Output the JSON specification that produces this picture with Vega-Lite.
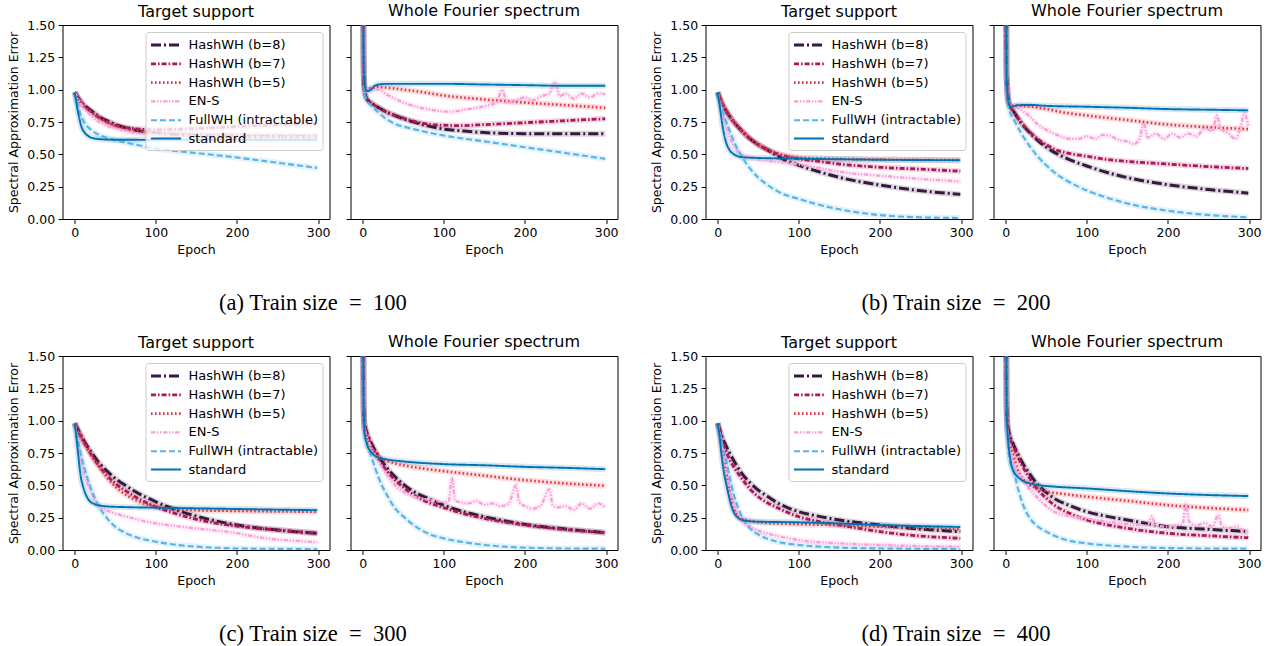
{
"$schema": "https://vega.github.io/schema/vega-lite/v6.json",
"padding": {"left": 6.5, "top": 2, "right": 5, "bottom": 0},
"config": {
  "font": "DejaVu Sans",
  "view": {"stroke": "black", "strokeWidth": 1},
  "axis": {"domain": false, "grid": false, "tickColor": "black", "tickSize": 4.4, "tickWidth": 1, "labelColor": "black", "labelFontSize": 12.5, "labelPadding": 3.5, "titleFontSize": 12.5, "titleFontWeight": "normal", "titleColor": "black", "titlePadding": 4},
  "axisY": {"titlePadding": 6},
  "title": {"fontSize": 16, "fontWeight": "normal", "color": "black", "offset": 6},
  "legend": {"orient": "top-right", "offset": 7, "symbolType": "M-1,0H3", "symbolSize": 225, "labelOffset": 21, "labelFontSize": 13, "labelColor": "black", "fillColor": "rgba(255,255,255,0.8)", "strokeColor": "#cccccc", "cornerRadius": 3, "padding": 4, "rowPadding": 2.8}
},
"datasets": {
"aT": [
{"m":"b8","e":0,"v":0.98},{"m":"b8","e":5,"v":0.93},{"m":"b8","e":10,"v":0.89},{"m":"b8","e":20,"v":0.84},{"m":"b8","e":30,"v":0.79},{"m":"b8","e":40,"v":0.76},{"m":"b8","e":50,"v":0.73},{"m":"b8","e":60,"v":0.71},{"m":"b8","e":80,"v":0.68},{"m":"b8","e":100,"v":0.665},{"m":"b8","e":125,"v":0.652},{"m":"b8","e":150,"v":0.645},{"m":"b8","e":200,"v":0.64},{"m":"b8","e":250,"v":0.637},{"m":"b8","e":299,"v":0.635},
{"m":"b7","e":0,"v":0.98},{"m":"b7","e":5,"v":0.93},{"m":"b7","e":10,"v":0.885},{"m":"b7","e":20,"v":0.83},{"m":"b7","e":30,"v":0.785},{"m":"b7","e":40,"v":0.75},{"m":"b7","e":50,"v":0.725},{"m":"b7","e":60,"v":0.71},{"m":"b7","e":80,"v":0.695},{"m":"b7","e":100,"v":0.69},{"m":"b7","e":150,"v":0.7},{"m":"b7","e":200,"v":0.715},{"m":"b7","e":250,"v":0.73},{"m":"b7","e":299,"v":0.745},
{"m":"b5","e":0,"v":0.98},{"m":"b5","e":5,"v":0.93},{"m":"b5","e":10,"v":0.885},{"m":"b5","e":20,"v":0.83},{"m":"b5","e":30,"v":0.785},{"m":"b5","e":40,"v":0.75},{"m":"b5","e":50,"v":0.72},{"m":"b5","e":60,"v":0.7},{"m":"b5","e":80,"v":0.68},{"m":"b5","e":100,"v":0.665},{"m":"b5","e":150,"v":0.655},{"m":"b5","e":200,"v":0.65},{"m":"b5","e":250,"v":0.645},{"m":"b5","e":299,"v":0.645},
{"m":"ens","e":0,"v":0.98},{"m":"ens","e":5,"v":0.92},{"m":"ens","e":10,"v":0.87},{"m":"ens","e":20,"v":0.8},{"m":"ens","e":30,"v":0.75},{"m":"ens","e":40,"v":0.72},{"m":"ens","e":50,"v":0.7},{"m":"ens","e":70,"v":0.67},{"m":"ens","e":100,"v":0.65},{"m":"ens","e":150,"v":0.64},{"m":"ens","e":200,"v":0.635},{"m":"ens","e":250,"v":0.63},{"m":"ens","e":299,"v":0.63},
{"m":"full","e":0,"v":0.98},{"m":"full","e":3,"v":0.9},{"m":"full","e":6,"v":0.83},{"m":"full","e":10,"v":0.77},{"m":"full","e":15,"v":0.72},{"m":"full","e":20,"v":0.69},{"m":"full","e":30,"v":0.65},{"m":"full","e":40,"v":0.628},{"m":"full","e":50,"v":0.61},{"m":"full","e":75,"v":0.575},{"m":"full","e":100,"v":0.545},{"m":"full","e":150,"v":0.51},{"m":"full","e":200,"v":0.475},{"m":"full","e":250,"v":0.435},{"m":"full","e":299,"v":0.395},
{"m":"std","e":0,"v":0.98},{"m":"std","e":2,"v":0.9},{"m":"std","e":5,"v":0.8},{"m":"std","e":8,"v":0.72},{"m":"std","e":12,"v":0.67},{"m":"std","e":16,"v":0.645},{"m":"std","e":20,"v":0.63},{"m":"std","e":30,"v":0.618},{"m":"std","e":50,"v":0.613},{"m":"std","e":100,"v":0.612},{"m":"std","e":200,"v":0.612},{"m":"std","e":299,"v":0.612}
],
"aW": [
{"m":"b8","e":0,"v":2.5},{"m":"b8","e":1,"v":1.3},{"m":"b8","e":2,"v":1.0},{"m":"b8","e":5,"v":0.93},{"m":"b8","e":10,"v":0.9},{"m":"b8","e":20,"v":0.86},{"m":"b8","e":30,"v":0.825},{"m":"b8","e":40,"v":0.8},{"m":"b8","e":50,"v":0.775},{"m":"b8","e":60,"v":0.755},{"m":"b8","e":80,"v":0.72},{"m":"b8","e":100,"v":0.695},{"m":"b8","e":125,"v":0.68},{"m":"b8","e":150,"v":0.668},{"m":"b8","e":200,"v":0.66},{"m":"b8","e":250,"v":0.66},{"m":"b8","e":299,"v":0.66},
{"m":"b7","e":0,"v":2.5},{"m":"b7","e":1,"v":1.3},{"m":"b7","e":2,"v":1.0},{"m":"b7","e":5,"v":0.93},{"m":"b7","e":10,"v":0.9},{"m":"b7","e":20,"v":0.86},{"m":"b7","e":30,"v":0.825},{"m":"b7","e":40,"v":0.8},{"m":"b7","e":50,"v":0.78},{"m":"b7","e":60,"v":0.76},{"m":"b7","e":80,"v":0.735},{"m":"b7","e":100,"v":0.725},{"m":"b7","e":120,"v":0.722},{"m":"b7","e":150,"v":0.73},{"m":"b7","e":200,"v":0.745},{"m":"b7","e":250,"v":0.76},{"m":"b7","e":299,"v":0.775},
{"m":"b5","e":0,"v":2.5},{"m":"b5","e":1,"v":1.3},{"m":"b5","e":2,"v":1.03},{"m":"b5","e":5,"v":1.01},{"m":"b5","e":10,"v":1.01},{"m":"b5","e":20,"v":1.02},{"m":"b5","e":30,"v":1.015},{"m":"b5","e":50,"v":1.0},{"m":"b5","e":75,"v":0.98},{"m":"b5","e":100,"v":0.955},{"m":"b5","e":150,"v":0.925},{"m":"b5","e":200,"v":0.9},{"m":"b5","e":250,"v":0.88},{"m":"b5","e":299,"v":0.86},
{"m":"ens","e":0,"v":2.5},{"m":"ens","e":1,"v":1.3},{"m":"ens","e":2,"v":1.03},{"m":"ens","e":5,"v":1.0},{"m":"ens","e":10,"v":1.0},{"m":"ens","e":20,"v":1.0},{"m":"ens","e":30,"v":0.96},{"m":"ens","e":40,"v":0.93},{"m":"ens","e":50,"v":0.9},{"m":"ens","e":65,"v":0.87},{"m":"ens","e":80,"v":0.85},{"m":"ens","e":95,"v":0.835},{"m":"ens","e":110,"v":0.83},{"m":"ens","e":125,"v":0.845},{"m":"ens","e":140,"v":0.86},{"m":"ens","e":155,"v":0.88},{"m":"ens","e":165,"v":0.9},{"m":"ens","e":172,"v":1.0},{"m":"ens","e":178,"v":0.9},{"m":"ens","e":190,"v":0.92},{"m":"ens","e":200,"v":0.94},{"m":"ens","e":210,"v":0.92},{"m":"ens","e":220,"v":0.95},{"m":"ens","e":230,"v":0.97},{"m":"ens","e":237,"v":1.06},{"m":"ens","e":243,"v":0.95},{"m":"ens","e":250,"v":0.97},{"m":"ens","e":260,"v":0.93},{"m":"ens","e":270,"v":0.97},{"m":"ens","e":280,"v":0.94},{"m":"ens","e":290,"v":0.97},{"m":"ens","e":299,"v":0.965},
{"m":"full","e":0,"v":2.5},{"m":"full","e":1,"v":1.3},{"m":"full","e":2,"v":0.98},{"m":"full","e":5,"v":0.92},{"m":"full","e":10,"v":0.88},{"m":"full","e":20,"v":0.82},{"m":"full","e":30,"v":0.77},{"m":"full","e":40,"v":0.735},{"m":"full","e":60,"v":0.7},{"m":"full","e":80,"v":0.67},{"m":"full","e":100,"v":0.645},{"m":"full","e":150,"v":0.6},{"m":"full","e":200,"v":0.555},{"m":"full","e":250,"v":0.51},{"m":"full","e":299,"v":0.465},
{"m":"std","e":0,"v":2.5},{"m":"std","e":1,"v":1.3},{"m":"std","e":2,"v":1.05},{"m":"std","e":4,"v":1.0},{"m":"std","e":7,"v":0.99},{"m":"std","e":10,"v":1.0},{"m":"std","e":15,"v":1.03},{"m":"std","e":20,"v":1.04},{"m":"std","e":30,"v":1.045},{"m":"std","e":50,"v":1.045},{"m":"std","e":100,"v":1.045},{"m":"std","e":150,"v":1.04},{"m":"std","e":200,"v":1.035},{"m":"std","e":250,"v":1.03},{"m":"std","e":299,"v":1.03}
],
"bT": [
{"m":"b8","e":0,"v":0.98},{"m":"b8","e":5,"v":0.9},{"m":"b8","e":10,"v":0.84},{"m":"b8","e":20,"v":0.75},{"m":"b8","e":30,"v":0.68},{"m":"b8","e":40,"v":0.62},{"m":"b8","e":50,"v":0.575},{"m":"b8","e":60,"v":0.54},{"m":"b8","e":80,"v":0.465},{"m":"b8","e":100,"v":0.415},{"m":"b8","e":125,"v":0.365},{"m":"b8","e":150,"v":0.322},{"m":"b8","e":200,"v":0.262},{"m":"b8","e":250,"v":0.219},{"m":"b8","e":299,"v":0.19},
{"m":"b7","e":0,"v":0.98},{"m":"b7","e":5,"v":0.9},{"m":"b7","e":10,"v":0.84},{"m":"b7","e":20,"v":0.75},{"m":"b7","e":30,"v":0.68},{"m":"b7","e":40,"v":0.62},{"m":"b7","e":50,"v":0.575},{"m":"b7","e":60,"v":0.54},{"m":"b7","e":80,"v":0.49},{"m":"b7","e":100,"v":0.465},{"m":"b7","e":125,"v":0.445},{"m":"b7","e":150,"v":0.425},{"m":"b7","e":200,"v":0.4},{"m":"b7","e":250,"v":0.385},{"m":"b7","e":299,"v":0.37},
{"m":"b5","e":0,"v":0.98},{"m":"b5","e":5,"v":0.9},{"m":"b5","e":10,"v":0.84},{"m":"b5","e":20,"v":0.75},{"m":"b5","e":30,"v":0.68},{"m":"b5","e":40,"v":0.62},{"m":"b5","e":50,"v":0.575},{"m":"b5","e":60,"v":0.54},{"m":"b5","e":80,"v":0.495},{"m":"b5","e":100,"v":0.475},{"m":"b5","e":150,"v":0.465},{"m":"b5","e":200,"v":0.46},{"m":"b5","e":299,"v":0.455},
{"m":"ens","e":0,"v":0.98},{"m":"ens","e":5,"v":0.85},{"m":"ens","e":10,"v":0.73},{"m":"ens","e":15,"v":0.63},{"m":"ens","e":20,"v":0.56},{"m":"ens","e":30,"v":0.5},{"m":"ens","e":40,"v":0.475},{"m":"ens","e":50,"v":0.46},{"m":"ens","e":75,"v":0.44},{"m":"ens","e":100,"v":0.42},{"m":"ens","e":125,"v":0.395},{"m":"ens","e":150,"v":0.365},{"m":"ens","e":200,"v":0.335},{"m":"ens","e":250,"v":0.31},{"m":"ens","e":299,"v":0.29},
{"m":"full","e":0,"v":0.98},{"m":"full","e":5,"v":0.86},{"m":"full","e":10,"v":0.76},{"m":"full","e":15,"v":0.68},{"m":"full","e":20,"v":0.6},{"m":"full","e":30,"v":0.48},{"m":"full","e":40,"v":0.39},{"m":"full","e":50,"v":0.32},{"m":"full","e":60,"v":0.27},{"m":"full","e":75,"v":0.21},{"m":"full","e":100,"v":0.155},{"m":"full","e":125,"v":0.11},{"m":"full","e":150,"v":0.075},{"m":"full","e":200,"v":0.03},{"m":"full","e":250,"v":0.013},{"m":"full","e":299,"v":0.008},
{"m":"std","e":0,"v":0.98},{"m":"std","e":3,"v":0.85},{"m":"std","e":6,"v":0.72},{"m":"std","e":10,"v":0.6},{"m":"std","e":15,"v":0.53},{"m":"std","e":20,"v":0.5},{"m":"std","e":25,"v":0.485},{"m":"std","e":30,"v":0.478},{"m":"std","e":50,"v":0.472},{"m":"std","e":100,"v":0.466},{"m":"std","e":150,"v":0.462},{"m":"std","e":200,"v":0.458},{"m":"std","e":250,"v":0.456},{"m":"std","e":299,"v":0.455}
],
"bW": [
{"m":"b8","e":0,"v":2.5},{"m":"b8","e":1,"v":1.15},{"m":"b8","e":2,"v":1.0},{"m":"b8","e":3,"v":0.93},{"m":"b8","e":5,"v":0.88},{"m":"b8","e":10,"v":0.83},{"m":"b8","e":20,"v":0.735},{"m":"b8","e":30,"v":0.665},{"m":"b8","e":40,"v":0.605},{"m":"b8","e":50,"v":0.555},{"m":"b8","e":60,"v":0.515},{"m":"b8","e":80,"v":0.455},{"m":"b8","e":100,"v":0.41},{"m":"b8","e":125,"v":0.36},{"m":"b8","e":150,"v":0.32},{"m":"b8","e":200,"v":0.265},{"m":"b8","e":250,"v":0.228},{"m":"b8","e":299,"v":0.2},
{"m":"b7","e":0,"v":2.5},{"m":"b7","e":1,"v":1.15},{"m":"b7","e":2,"v":1.0},{"m":"b7","e":3,"v":0.93},{"m":"b7","e":5,"v":0.88},{"m":"b7","e":10,"v":0.83},{"m":"b7","e":20,"v":0.74},{"m":"b7","e":30,"v":0.67},{"m":"b7","e":40,"v":0.615},{"m":"b7","e":50,"v":0.575},{"m":"b7","e":60,"v":0.54},{"m":"b7","e":80,"v":0.505},{"m":"b7","e":100,"v":0.485},{"m":"b7","e":125,"v":0.46},{"m":"b7","e":150,"v":0.445},{"m":"b7","e":200,"v":0.425},{"m":"b7","e":250,"v":0.405},{"m":"b7","e":299,"v":0.39},
{"m":"b5","e":0,"v":2.5},{"m":"b5","e":1,"v":1.15},{"m":"b5","e":2,"v":1.0},{"m":"b5","e":3,"v":0.93},{"m":"b5","e":5,"v":0.88},{"m":"b5","e":10,"v":0.875},{"m":"b5","e":20,"v":0.875},{"m":"b5","e":30,"v":0.87},{"m":"b5","e":50,"v":0.85},{"m":"b5","e":75,"v":0.82},{"m":"b5","e":100,"v":0.8},{"m":"b5","e":150,"v":0.765},{"m":"b5","e":200,"v":0.73},{"m":"b5","e":250,"v":0.71},{"m":"b5","e":299,"v":0.695},
{"m":"ens","e":0,"v":2.5},{"m":"ens","e":1,"v":1.15},{"m":"ens","e":2,"v":1.0},{"m":"ens","e":3,"v":0.93},{"m":"ens","e":5,"v":0.88},{"m":"ens","e":10,"v":0.87},{"m":"ens","e":20,"v":0.84},{"m":"ens","e":30,"v":0.79},{"m":"ens","e":40,"v":0.73},{"m":"ens","e":50,"v":0.69},{"m":"ens","e":60,"v":0.66},{"m":"ens","e":80,"v":0.62},{"m":"ens","e":90,"v":0.62},{"m":"ens","e":100,"v":0.64},{"m":"ens","e":110,"v":0.62},{"m":"ens","e":120,"v":0.65},{"m":"ens","e":130,"v":0.64},{"m":"ens","e":140,"v":0.61},{"m":"ens","e":150,"v":0.6},{"m":"ens","e":158,"v":0.58},{"m":"ens","e":165,"v":0.62},{"m":"ens","e":170,"v":0.74},{"m":"ens","e":175,"v":0.63},{"m":"ens","e":185,"v":0.66},{"m":"ens","e":195,"v":0.62},{"m":"ens","e":205,"v":0.66},{"m":"ens","e":215,"v":0.63},{"m":"ens","e":225,"v":0.66},{"m":"ens","e":235,"v":0.64},{"m":"ens","e":245,"v":0.7},{"m":"ens","e":255,"v":0.68},{"m":"ens","e":260,"v":0.8},{"m":"ens","e":265,"v":0.7},{"m":"ens","e":275,"v":0.66},{"m":"ens","e":283,"v":0.62},{"m":"ens","e":290,"v":0.72},{"m":"ens","e":294,"v":0.82},{"m":"ens","e":299,"v":0.72},
{"m":"full","e":0,"v":2.5},{"m":"full","e":1,"v":1.1},{"m":"full","e":2,"v":0.95},{"m":"full","e":3,"v":0.88},{"m":"full","e":5,"v":0.83},{"m":"full","e":10,"v":0.77},{"m":"full","e":20,"v":0.655},{"m":"full","e":30,"v":0.56},{"m":"full","e":40,"v":0.48},{"m":"full","e":50,"v":0.415},{"m":"full","e":60,"v":0.36},{"m":"full","e":80,"v":0.28},{"m":"full","e":100,"v":0.22},{"m":"full","e":125,"v":0.165},{"m":"full","e":150,"v":0.12},{"m":"full","e":200,"v":0.064},{"m":"full","e":250,"v":0.031},{"m":"full","e":299,"v":0.013},
{"m":"std","e":0,"v":2.5},{"m":"std","e":1,"v":1.15},{"m":"std","e":2,"v":1.0},{"m":"std","e":3,"v":0.93},{"m":"std","e":5,"v":0.875},{"m":"std","e":8,"v":0.87},{"m":"std","e":15,"v":0.88},{"m":"std","e":30,"v":0.882},{"m":"std","e":50,"v":0.875},{"m":"std","e":100,"v":0.868},{"m":"std","e":150,"v":0.86},{"m":"std","e":200,"v":0.85},{"m":"std","e":250,"v":0.845},{"m":"std","e":299,"v":0.84}
],
"cT": [
{"m":"b8","e":0,"v":0.98},{"m":"b8","e":5,"v":0.92},{"m":"b8","e":10,"v":0.86},{"m":"b8","e":20,"v":0.76},{"m":"b8","e":30,"v":0.675},{"m":"b8","e":40,"v":0.61},{"m":"b8","e":50,"v":0.553},{"m":"b8","e":60,"v":0.51},{"m":"b8","e":75,"v":0.45},{"m":"b8","e":100,"v":0.373},{"m":"b8","e":125,"v":0.31},{"m":"b8","e":150,"v":0.262},{"m":"b8","e":200,"v":0.193},{"m":"b8","e":250,"v":0.154},{"m":"b8","e":299,"v":0.129},
{"m":"b7","e":0,"v":0.98},{"m":"b7","e":5,"v":0.91},{"m":"b7","e":10,"v":0.85},{"m":"b7","e":20,"v":0.74},{"m":"b7","e":30,"v":0.65},{"m":"b7","e":40,"v":0.575},{"m":"b7","e":50,"v":0.515},{"m":"b7","e":60,"v":0.47},{"m":"b7","e":75,"v":0.41},{"m":"b7","e":100,"v":0.334},{"m":"b7","e":125,"v":0.28},{"m":"b7","e":150,"v":0.237},{"m":"b7","e":200,"v":0.185},{"m":"b7","e":250,"v":0.155},{"m":"b7","e":299,"v":0.129},
{"m":"b5","e":0,"v":0.98},{"m":"b5","e":5,"v":0.91},{"m":"b5","e":10,"v":0.85},{"m":"b5","e":20,"v":0.74},{"m":"b5","e":30,"v":0.645},{"m":"b5","e":40,"v":0.56},{"m":"b5","e":50,"v":0.49},{"m":"b5","e":60,"v":0.44},{"m":"b5","e":75,"v":0.385},{"m":"b5","e":100,"v":0.335},{"m":"b5","e":125,"v":0.315},{"m":"b5","e":150,"v":0.307},{"m":"b5","e":200,"v":0.302},{"m":"b5","e":250,"v":0.298},{"m":"b5","e":299,"v":0.296},
{"m":"ens","e":0,"v":0.98},{"m":"ens","e":3,"v":0.87},{"m":"ens","e":6,"v":0.76},{"m":"ens","e":10,"v":0.64},{"m":"ens","e":15,"v":0.53},{"m":"ens","e":20,"v":0.45},{"m":"ens","e":25,"v":0.38},{"m":"ens","e":30,"v":0.335},{"m":"ens","e":40,"v":0.305},{"m":"ens","e":50,"v":0.283},{"m":"ens","e":75,"v":0.24},{"m":"ens","e":100,"v":0.206},{"m":"ens","e":125,"v":0.185},{"m":"ens","e":150,"v":0.167},{"m":"ens","e":200,"v":0.13},{"m":"ens","e":225,"v":0.1},{"m":"ens","e":250,"v":0.08},{"m":"ens","e":275,"v":0.07},{"m":"ens","e":299,"v":0.06},
{"m":"full","e":0,"v":0.98},{"m":"full","e":3,"v":0.88},{"m":"full","e":6,"v":0.79},{"m":"full","e":10,"v":0.68},{"m":"full","e":15,"v":0.57},{"m":"full","e":20,"v":0.475},{"m":"full","e":25,"v":0.4},{"m":"full","e":30,"v":0.335},{"m":"full","e":40,"v":0.245},{"m":"full","e":50,"v":0.18},{"m":"full","e":60,"v":0.14},{"m":"full","e":75,"v":0.1},{"m":"full","e":100,"v":0.064},{"m":"full","e":125,"v":0.04},{"m":"full","e":150,"v":0.026},{"m":"full","e":200,"v":0.012},{"m":"full","e":250,"v":0.009},{"m":"full","e":299,"v":0.008},
{"m":"std","e":0,"v":0.98},{"m":"std","e":2,"v":0.88},{"m":"std","e":4,"v":0.76},{"m":"std","e":6,"v":0.64},{"m":"std","e":8,"v":0.55},{"m":"std","e":10,"v":0.5},{"m":"std","e":13,"v":0.44},{"m":"std","e":16,"v":0.4},{"m":"std","e":20,"v":0.37},{"m":"std","e":30,"v":0.345},{"m":"std","e":40,"v":0.337},{"m":"std","e":60,"v":0.332},{"m":"std","e":100,"v":0.327},{"m":"std","e":150,"v":0.322},{"m":"std","e":200,"v":0.317},{"m":"std","e":250,"v":0.312},{"m":"std","e":299,"v":0.308}
],
"cW": [
{"m":"b8","e":0,"v":2.5},{"m":"b8","e":1,"v":1.2},{"m":"b8","e":2,"v":0.98},{"m":"b8","e":3,"v":0.95},{"m":"b8","e":5,"v":0.91},{"m":"b8","e":10,"v":0.835},{"m":"b8","e":20,"v":0.72},{"m":"b8","e":30,"v":0.635},{"m":"b8","e":40,"v":0.566},{"m":"b8","e":50,"v":0.51},{"m":"b8","e":60,"v":0.463},{"m":"b8","e":80,"v":0.4},{"m":"b8","e":100,"v":0.347},{"m":"b8","e":125,"v":0.295},{"m":"b8","e":150,"v":0.257},{"m":"b8","e":200,"v":0.198},{"m":"b8","e":250,"v":0.162},{"m":"b8","e":299,"v":0.134},
{"m":"b7","e":0,"v":2.5},{"m":"b7","e":1,"v":1.2},{"m":"b7","e":2,"v":0.98},{"m":"b7","e":3,"v":0.95},{"m":"b7","e":5,"v":0.9},{"m":"b7","e":10,"v":0.82},{"m":"b7","e":20,"v":0.7},{"m":"b7","e":30,"v":0.61},{"m":"b7","e":40,"v":0.54},{"m":"b7","e":50,"v":0.485},{"m":"b7","e":60,"v":0.437},{"m":"b7","e":80,"v":0.37},{"m":"b7","e":100,"v":0.327},{"m":"b7","e":125,"v":0.28},{"m":"b7","e":150,"v":0.244},{"m":"b7","e":200,"v":0.193},{"m":"b7","e":250,"v":0.158},{"m":"b7","e":299,"v":0.134},
{"m":"b5","e":0,"v":2.5},{"m":"b5","e":1,"v":1.2},{"m":"b5","e":2,"v":0.95},{"m":"b5","e":3,"v":0.9},{"m":"b5","e":5,"v":0.87},{"m":"b5","e":10,"v":0.81},{"m":"b5","e":20,"v":0.72},{"m":"b5","e":30,"v":0.69},{"m":"b5","e":40,"v":0.67},{"m":"b5","e":50,"v":0.655},{"m":"b5","e":75,"v":0.63},{"m":"b5","e":100,"v":0.61},{"m":"b5","e":150,"v":0.575},{"m":"b5","e":200,"v":0.54},{"m":"b5","e":250,"v":0.515},{"m":"b5","e":299,"v":0.497},
{"m":"ens","e":0,"v":2.5},{"m":"ens","e":1,"v":1.2},{"m":"ens","e":2,"v":0.97},{"m":"ens","e":3,"v":0.93},{"m":"ens","e":5,"v":0.88},{"m":"ens","e":10,"v":0.8},{"m":"ens","e":20,"v":0.68},{"m":"ens","e":30,"v":0.58},{"m":"ens","e":40,"v":0.5},{"m":"ens","e":50,"v":0.45},{"m":"ens","e":60,"v":0.42},{"m":"ens","e":70,"v":0.4},{"m":"ens","e":80,"v":0.39},{"m":"ens","e":90,"v":0.38},{"m":"ens","e":100,"v":0.37},{"m":"ens","e":106,"v":0.38},{"m":"ens","e":110,"v":0.56},{"m":"ens","e":114,"v":0.38},{"m":"ens","e":120,"v":0.37},{"m":"ens","e":130,"v":0.36},{"m":"ens","e":140,"v":0.38},{"m":"ens","e":150,"v":0.35},{"m":"ens","e":160,"v":0.36},{"m":"ens","e":170,"v":0.34},{"m":"ens","e":180,"v":0.36},{"m":"ens","e":189,"v":0.5},{"m":"ens","e":193,"v":0.37},{"m":"ens","e":200,"v":0.34},{"m":"ens","e":210,"v":0.32},{"m":"ens","e":220,"v":0.35},{"m":"ens","e":230,"v":0.47},{"m":"ens","e":234,"v":0.35},{"m":"ens","e":240,"v":0.33},{"m":"ens","e":250,"v":0.34},{"m":"ens","e":260,"v":0.31},{"m":"ens","e":270,"v":0.36},{"m":"ens","e":280,"v":0.32},{"m":"ens","e":290,"v":0.36},{"m":"ens","e":299,"v":0.33},
{"m":"full","e":0,"v":2.5},{"m":"full","e":1,"v":1.1},{"m":"full","e":2,"v":0.92},{"m":"full","e":3,"v":0.87},{"m":"full","e":5,"v":0.82},{"m":"full","e":10,"v":0.733},{"m":"full","e":15,"v":0.64},{"m":"full","e":20,"v":0.553},{"m":"full","e":30,"v":0.424},{"m":"full","e":40,"v":0.322},{"m":"full","e":50,"v":0.26},{"m":"full","e":60,"v":0.206},{"m":"full","e":80,"v":0.129},{"m":"full","e":100,"v":0.09},{"m":"full","e":125,"v":0.06},{"m":"full","e":150,"v":0.039},{"m":"full","e":200,"v":0.018},{"m":"full","e":250,"v":0.012},{"m":"full","e":299,"v":0.01},
{"m":"std","e":0,"v":2.5},{"m":"std","e":1,"v":1.2},{"m":"std","e":2,"v":0.95},{"m":"std","e":3,"v":0.88},{"m":"std","e":5,"v":0.83},{"m":"std","e":7,"v":0.79},{"m":"std","e":10,"v":0.76},{"m":"std","e":15,"v":0.73},{"m":"std","e":20,"v":0.713},{"m":"std","e":30,"v":0.7},{"m":"std","e":50,"v":0.685},{"m":"std","e":100,"v":0.664},{"m":"std","e":150,"v":0.655},{"m":"std","e":200,"v":0.643},{"m":"std","e":250,"v":0.635},{"m":"std","e":299,"v":0.625}
],
"dT": [
{"m":"b8","e":0,"v":0.98},{"m":"b8","e":5,"v":0.88},{"m":"b8","e":10,"v":0.81},{"m":"b8","e":20,"v":0.69},{"m":"b8","e":30,"v":0.59},{"m":"b8","e":40,"v":0.52},{"m":"b8","e":50,"v":0.463},{"m":"b8","e":60,"v":0.42},{"m":"b8","e":75,"v":0.36},{"m":"b8","e":100,"v":0.296},{"m":"b8","e":125,"v":0.26},{"m":"b8","e":150,"v":0.232},{"m":"b8","e":200,"v":0.193},{"m":"b8","e":250,"v":0.162},{"m":"b8","e":299,"v":0.142},
{"m":"b7","e":0,"v":0.98},{"m":"b7","e":5,"v":0.87},{"m":"b7","e":10,"v":0.77},{"m":"b7","e":20,"v":0.64},{"m":"b7","e":30,"v":0.55},{"m":"b7","e":40,"v":0.47},{"m":"b7","e":50,"v":0.412},{"m":"b7","e":60,"v":0.37},{"m":"b7","e":75,"v":0.322},{"m":"b7","e":100,"v":0.257},{"m":"b7","e":125,"v":0.22},{"m":"b7","e":150,"v":0.193},{"m":"b7","e":200,"v":0.142},{"m":"b7","e":250,"v":0.108},{"m":"b7","e":299,"v":0.09},
{"m":"b5","e":0,"v":0.98},{"m":"b5","e":3,"v":0.88},{"m":"b5","e":6,"v":0.77},{"m":"b5","e":10,"v":0.62},{"m":"b5","e":15,"v":0.45},{"m":"b5","e":20,"v":0.32},{"m":"b5","e":25,"v":0.26},{"m":"b5","e":30,"v":0.24},{"m":"b5","e":40,"v":0.225},{"m":"b5","e":50,"v":0.215},{"m":"b5","e":100,"v":0.2},{"m":"b5","e":150,"v":0.192},{"m":"b5","e":200,"v":0.18},{"m":"b5","e":250,"v":0.17},{"m":"b5","e":299,"v":0.16},
{"m":"ens","e":0,"v":0.98},{"m":"ens","e":3,"v":0.88},{"m":"ens","e":6,"v":0.77},{"m":"ens","e":10,"v":0.6},{"m":"ens","e":15,"v":0.45},{"m":"ens","e":20,"v":0.35},{"m":"ens","e":25,"v":0.27},{"m":"ens","e":30,"v":0.22},{"m":"ens","e":40,"v":0.18},{"m":"ens","e":50,"v":0.15},{"m":"ens","e":60,"v":0.13},{"m":"ens","e":80,"v":0.1},{"m":"ens","e":100,"v":0.077},{"m":"ens","e":150,"v":0.051},{"m":"ens","e":200,"v":0.039},{"m":"ens","e":250,"v":0.03},{"m":"ens","e":299,"v":0.026},
{"m":"full","e":0,"v":0.98},{"m":"full","e":3,"v":0.9},{"m":"full","e":6,"v":0.81},{"m":"full","e":10,"v":0.707},{"m":"full","e":15,"v":0.56},{"m":"full","e":20,"v":0.424},{"m":"full","e":25,"v":0.33},{"m":"full","e":30,"v":0.257},{"m":"full","e":40,"v":0.167},{"m":"full","e":50,"v":0.12},{"m":"full","e":60,"v":0.09},{"m":"full","e":80,"v":0.055},{"m":"full","e":100,"v":0.039},{"m":"full","e":150,"v":0.018},{"m":"full","e":200,"v":0.012},{"m":"full","e":299,"v":0.008},
{"m":"std","e":0,"v":0.98},{"m":"std","e":2,"v":0.9},{"m":"std","e":4,"v":0.78},{"m":"std","e":6,"v":0.67},{"m":"std","e":8,"v":0.59},{"m":"std","e":10,"v":0.527},{"m":"std","e":13,"v":0.44},{"m":"std","e":16,"v":0.36},{"m":"std","e":20,"v":0.29},{"m":"std","e":25,"v":0.25},{"m":"std","e":30,"v":0.232},{"m":"std","e":40,"v":0.222},{"m":"std","e":50,"v":0.219},{"m":"std","e":100,"v":0.214},{"m":"std","e":150,"v":0.205},{"m":"std","e":200,"v":0.193},{"m":"std","e":250,"v":0.185},{"m":"std","e":299,"v":0.178}
],
"dW": [
{"m":"b8","e":0,"v":2.5},{"m":"b8","e":1,"v":1.2},{"m":"b8","e":2,"v":0.98},{"m":"b8","e":3,"v":0.94},{"m":"b8","e":5,"v":0.888},{"m":"b8","e":10,"v":0.81},{"m":"b8","e":20,"v":0.682},{"m":"b8","e":30,"v":0.585},{"m":"b8","e":40,"v":0.502},{"m":"b8","e":50,"v":0.445},{"m":"b8","e":60,"v":0.399},{"m":"b8","e":80,"v":0.34},{"m":"b8","e":100,"v":0.296},{"m":"b8","e":125,"v":0.26},{"m":"b8","e":150,"v":0.232},{"m":"b8","e":200,"v":0.18},{"m":"b8","e":250,"v":0.16},{"m":"b8","e":299,"v":0.142},
{"m":"b7","e":0,"v":2.5},{"m":"b7","e":1,"v":1.2},{"m":"b7","e":2,"v":0.98},{"m":"b7","e":3,"v":0.93},{"m":"b7","e":5,"v":0.87},{"m":"b7","e":10,"v":0.795},{"m":"b7","e":20,"v":0.656},{"m":"b7","e":30,"v":0.55},{"m":"b7","e":40,"v":0.463},{"m":"b7","e":50,"v":0.4},{"m":"b7","e":60,"v":0.347},{"m":"b7","e":80,"v":0.28},{"m":"b7","e":100,"v":0.232},{"m":"b7","e":125,"v":0.195},{"m":"b7","e":150,"v":0.167},{"m":"b7","e":200,"v":0.129},{"m":"b7","e":250,"v":0.11},{"m":"b7","e":299,"v":0.095},
{"m":"b5","e":0,"v":2.5},{"m":"b5","e":1,"v":1.2},{"m":"b5","e":2,"v":0.97},{"m":"b5","e":3,"v":0.9},{"m":"b5","e":5,"v":0.83},{"m":"b5","e":10,"v":0.72},{"m":"b5","e":15,"v":0.62},{"m":"b5","e":20,"v":0.56},{"m":"b5","e":30,"v":0.5},{"m":"b5","e":40,"v":0.476},{"m":"b5","e":50,"v":0.455},{"m":"b5","e":75,"v":0.43},{"m":"b5","e":100,"v":0.412},{"m":"b5","e":150,"v":0.38},{"m":"b5","e":200,"v":0.347},{"m":"b5","e":250,"v":0.325},{"m":"b5","e":299,"v":0.309},
{"m":"ens","e":0,"v":2.5},{"m":"ens","e":1,"v":1.2},{"m":"ens","e":2,"v":0.95},{"m":"ens","e":3,"v":0.88},{"m":"ens","e":5,"v":0.8},{"m":"ens","e":10,"v":0.68},{"m":"ens","e":20,"v":0.553},{"m":"ens","e":30,"v":0.47},{"m":"ens","e":40,"v":0.399},{"m":"ens","e":50,"v":0.34},{"m":"ens","e":60,"v":0.296},{"m":"ens","e":80,"v":0.26},{"m":"ens","e":100,"v":0.244},{"m":"ens","e":125,"v":0.22},{"m":"ens","e":150,"v":0.2},{"m":"ens","e":175,"v":0.19},{"m":"ens","e":180,"v":0.26},{"m":"ens","e":185,"v":0.19},{"m":"ens","e":200,"v":0.18},{"m":"ens","e":210,"v":0.19},{"m":"ens","e":218,"v":0.2},{"m":"ens","e":222,"v":0.36},{"m":"ens","e":226,"v":0.22},{"m":"ens","e":235,"v":0.19},{"m":"ens","e":245,"v":0.21},{"m":"ens","e":255,"v":0.18},{"m":"ens","e":262,"v":0.27},{"m":"ens","e":266,"v":0.19},{"m":"ens","e":275,"v":0.17},{"m":"ens","e":285,"v":0.18},{"m":"ens","e":292,"v":0.15},{"m":"ens","e":299,"v":0.14},
{"m":"full","e":0,"v":2.5},{"m":"full","e":1,"v":1.1},{"m":"full","e":2,"v":0.9},{"m":"full","e":3,"v":0.8},{"m":"full","e":5,"v":0.7},{"m":"full","e":10,"v":0.605},{"m":"full","e":15,"v":0.48},{"m":"full","e":20,"v":0.373},{"m":"full","e":30,"v":0.244},{"m":"full","e":40,"v":0.18},{"m":"full","e":50,"v":0.142},{"m":"full","e":75,"v":0.077},{"m":"full","e":100,"v":0.051},{"m":"full","e":150,"v":0.026},{"m":"full","e":200,"v":0.015},{"m":"full","e":299,"v":0.01},
{"m":"std","e":0,"v":2.5},{"m":"std","e":1,"v":1.2},{"m":"std","e":2,"v":0.95},{"m":"std","e":3,"v":0.85},{"m":"std","e":5,"v":0.733},{"m":"std","e":7,"v":0.66},{"m":"std","e":10,"v":0.605},{"m":"std","e":15,"v":0.565},{"m":"std","e":20,"v":0.54},{"m":"std","e":30,"v":0.515},{"m":"std","e":40,"v":0.502},{"m":"std","e":60,"v":0.49},{"m":"std","e":100,"v":0.476},{"m":"std","e":150,"v":0.455},{"m":"std","e":200,"v":0.437},{"m":"std","e":250,"v":0.425},{"m":"std","e":299,"v":0.417}
]
},
"resolve": {"scale": {"color": "independent", "strokeDash": "independent", "strokeWidth": "independent"}, "legend": {"color": "independent", "strokeDash": "independent", "strokeWidth": "independent"}},
"spacing": 18,
"vconcat": [
{"hconcat": [
  {"title": {"text": "(a) Train size\u2002=\u2002100", "orient": "bottom", "anchor": "middle", "font": "Liberation Serif", "fontSize": 22.5, "offset": 36},
   "spacing": 13,
   "resolve": {"scale": {"color": "independent", "strokeDash": "independent", "strokeWidth": "independent"}, "legend": {"color": "independent", "strokeDash": "independent", "strokeWidth": "independent"}},
   "hconcat": [
    {"width": 267, "height": 194, "title": {"text": "Target support", "offset": -1}, "data": {"name": "aT"},
     "encoding": {
      "x": {"field": "e", "type": "quantitative", "scale": {"domain": [-15, 314], "nice": false, "zero": false}, "axis": {"values": [0, 100, 200, 300], "title": "Epoch"}},
      "y": {"field": "v", "type": "quantitative", "scale": {"domain": [0, 1.5], "nice": false}, "axis": {"values": [0, 0.25, 0.5, 0.75, 1, 1.25, 1.5], "format": ".2f", "title": "Spectral Approximation Error"}}},
     "layer": [
      {"mark": {"type": "line", "clip": true, "interpolate": "monotone", "strokeWidth": 6, "opacity": 0.17}, "encoding": {"stroke": {"field": "m", "type": "nominal", "scale": {"domain": ["b8","b7","b5","ens","full","std"], "range": ["#35193e","#ad1759","#e13342","#f9a0d9","#56b4e9","#0072b2"]}, "legend": null}}},
      {"mark": {"type": "line", "clip": true, "interpolate": "monotone"}, "encoding": {
      "color": {"field": "m", "type": "nominal", "scale": {"domain": ["b8","b7","b5","ens","full","std"], "range": ["#35193e","#ad1759","#e13342","#f9a0d9","#56b4e9","#0072b2"]}, "legend": {"title": null, "labelExpr": "{'b8':'HashWH (b=8)','b7':'HashWH (b=7)','b5':'HashWH (b=5)','ens':'EN-S','full':'FullWH (intractable)','std':'standard'}[datum.label]"}},
      "strokeDash": {"field": "m", "type": "nominal", "scale": {"domain": ["b8","b7","b5","ens","full","std"], "range": [[10,3,2,3],[5,2,1.6,2],[1.6,2.4],[4.5,1.5,1.5,1.5,1.5,1.5],[6,3],[1,0]]}, "legend": {"title": null, "labelExpr": "{'b8':'HashWH (b=8)','b7':'HashWH (b=7)','b5':'HashWH (b=5)','ens':'EN-S','full':'FullWH (intractable)','std':'standard'}[datum.label]"}},
      "strokeWidth": {"field": "m", "type": "nominal", "scale": {"domain": ["b8","b7","b5","ens","full","std"], "range": [3,1.9,1.9,1.9,1.9,2.6]}, "legend": {"title": null, "labelExpr": "{'b8':'HashWH (b=8)','b7':'HashWH (b=7)','b5':'HashWH (b=5)','ens':'EN-S','full':'FullWH (intractable)','std':'standard'}[datum.label]"}}
     }}]},
    {"width": 267, "height": 194, "title": "Whole Fourier spectrum", "data": {"name": "aW"},
     "encoding": {
      "x": {"field": "e", "type": "quantitative", "scale": {"domain": [-15, 314], "nice": false, "zero": false}, "axis": {"values": [0, 100, 200, 300], "title": "Epoch"}},
      "y": {"field": "v", "type": "quantitative", "scale": {"domain": [0, 1.5], "nice": false}, "axis": {"values": [0, 0.25, 0.5, 0.75, 1, 1.25, 1.5], "labels": false, "title": null}}},
     "layer": [
      {"mark": {"type": "line", "clip": true, "interpolate": "monotone", "strokeWidth": 6, "opacity": 0.17}, "encoding": {"stroke": {"field": "m", "type": "nominal", "scale": {"domain": ["b8","b7","b5","ens","full","std"], "range": ["#35193e","#ad1759","#e13342","#f9a0d9","#56b4e9","#0072b2"]}, "legend": null}}},
      {"mark": {"type": "line", "clip": true, "interpolate": "monotone"}, "encoding": {
      "color": {"field": "m", "type": "nominal", "scale": {"domain": ["b8","b7","b5","ens","full","std"], "range": ["#35193e","#ad1759","#e13342","#f9a0d9","#56b4e9","#0072b2"]}, "legend": null},
      "strokeDash": {"field": "m", "type": "nominal", "scale": {"domain": ["b8","b7","b5","ens","full","std"], "range": [[10,3,2,3],[5,2,1.6,2],[1.6,2.4],[4.5,1.5,1.5,1.5,1.5,1.5],[6,3],[1,0]]}, "legend": null},
      "strokeWidth": {"field": "m", "type": "nominal", "scale": {"domain": ["b8","b7","b5","ens","full","std"], "range": [3,1.9,1.9,1.9,1.9,2.6]}, "legend": null}
     }}]}
   ]},
  {"title": {"text": "(b) Train size\u2002=\u2002200", "orient": "bottom", "anchor": "middle", "font": "Liberation Serif", "fontSize": 22.5, "offset": 36},
   "spacing": 13,
   "resolve": {"scale": {"color": "independent", "strokeDash": "independent", "strokeWidth": "independent"}, "legend": {"color": "independent", "strokeDash": "independent", "strokeWidth": "independent"}},
   "hconcat": [
    {"width": 267, "height": 194, "title": {"text": "Target support", "offset": -1}, "data": {"name": "bT"},
     "encoding": {
      "x": {"field": "e", "type": "quantitative", "scale": {"domain": [-15, 314], "nice": false, "zero": false}, "axis": {"values": [0, 100, 200, 300], "title": "Epoch"}},
      "y": {"field": "v", "type": "quantitative", "scale": {"domain": [0, 1.5], "nice": false}, "axis": {"values": [0, 0.25, 0.5, 0.75, 1, 1.25, 1.5], "format": ".2f", "title": "Spectral Approximation Error"}}},
     "layer": [
      {"mark": {"type": "line", "clip": true, "interpolate": "monotone", "strokeWidth": 6, "opacity": 0.17}, "encoding": {"stroke": {"field": "m", "type": "nominal", "scale": {"domain": ["b8","b7","b5","ens","full","std"], "range": ["#35193e","#ad1759","#e13342","#f9a0d9","#56b4e9","#0072b2"]}, "legend": null}}},
      {"mark": {"type": "line", "clip": true, "interpolate": "monotone"}, "encoding": {
      "color": {"field": "m", "type": "nominal", "scale": {"domain": ["b8","b7","b5","ens","full","std"], "range": ["#35193e","#ad1759","#e13342","#f9a0d9","#56b4e9","#0072b2"]}, "legend": {"title": null, "labelExpr": "{'b8':'HashWH (b=8)','b7':'HashWH (b=7)','b5':'HashWH (b=5)','ens':'EN-S','full':'FullWH (intractable)','std':'standard'}[datum.label]"}},
      "strokeDash": {"field": "m", "type": "nominal", "scale": {"domain": ["b8","b7","b5","ens","full","std"], "range": [[10,3,2,3],[5,2,1.6,2],[1.6,2.4],[4.5,1.5,1.5,1.5,1.5,1.5],[6,3],[1,0]]}, "legend": {"title": null, "labelExpr": "{'b8':'HashWH (b=8)','b7':'HashWH (b=7)','b5':'HashWH (b=5)','ens':'EN-S','full':'FullWH (intractable)','std':'standard'}[datum.label]"}},
      "strokeWidth": {"field": "m", "type": "nominal", "scale": {"domain": ["b8","b7","b5","ens","full","std"], "range": [3,1.9,1.9,1.9,1.9,2.6]}, "legend": {"title": null, "labelExpr": "{'b8':'HashWH (b=8)','b7':'HashWH (b=7)','b5':'HashWH (b=5)','ens':'EN-S','full':'FullWH (intractable)','std':'standard'}[datum.label]"}}
     }}]},
    {"width": 267, "height": 194, "title": "Whole Fourier spectrum", "data": {"name": "bW"},
     "encoding": {
      "x": {"field": "e", "type": "quantitative", "scale": {"domain": [-15, 314], "nice": false, "zero": false}, "axis": {"values": [0, 100, 200, 300], "title": "Epoch"}},
      "y": {"field": "v", "type": "quantitative", "scale": {"domain": [0, 1.5], "nice": false}, "axis": {"values": [0, 0.25, 0.5, 0.75, 1, 1.25, 1.5], "labels": false, "title": null}}},
     "layer": [
      {"mark": {"type": "line", "clip": true, "interpolate": "monotone", "strokeWidth": 6, "opacity": 0.17}, "encoding": {"stroke": {"field": "m", "type": "nominal", "scale": {"domain": ["b8","b7","b5","ens","full","std"], "range": ["#35193e","#ad1759","#e13342","#f9a0d9","#56b4e9","#0072b2"]}, "legend": null}}},
      {"mark": {"type": "line", "clip": true, "interpolate": "monotone"}, "encoding": {
      "color": {"field": "m", "type": "nominal", "scale": {"domain": ["b8","b7","b5","ens","full","std"], "range": ["#35193e","#ad1759","#e13342","#f9a0d9","#56b4e9","#0072b2"]}, "legend": null},
      "strokeDash": {"field": "m", "type": "nominal", "scale": {"domain": ["b8","b7","b5","ens","full","std"], "range": [[10,3,2,3],[5,2,1.6,2],[1.6,2.4],[4.5,1.5,1.5,1.5,1.5,1.5],[6,3],[1,0]]}, "legend": null},
      "strokeWidth": {"field": "m", "type": "nominal", "scale": {"domain": ["b8","b7","b5","ens","full","std"], "range": [3,1.9,1.9,1.9,1.9,2.6]}, "legend": null}
     }}]}
   ]}
 ],
 "spacing": 30,
 "resolve": {"scale": {"color": "independent", "strokeDash": "independent", "strokeWidth": "independent"}, "legend": {"color": "independent", "strokeDash": "independent", "strokeWidth": "independent"}}
},
{"hconcat": [
  {"title": {"text": "(c) Train size\u2002=\u2002300", "orient": "bottom", "anchor": "middle", "font": "Liberation Serif", "fontSize": 22.5, "offset": 36},
   "spacing": 13,
   "resolve": {"scale": {"color": "independent", "strokeDash": "independent", "strokeWidth": "independent"}, "legend": {"color": "independent", "strokeDash": "independent", "strokeWidth": "independent"}},
   "hconcat": [
    {"width": 267, "height": 194, "title": {"text": "Target support", "offset": -1}, "data": {"name": "cT"},
     "encoding": {
      "x": {"field": "e", "type": "quantitative", "scale": {"domain": [-15, 314], "nice": false, "zero": false}, "axis": {"values": [0, 100, 200, 300], "title": "Epoch"}},
      "y": {"field": "v", "type": "quantitative", "scale": {"domain": [0, 1.5], "nice": false}, "axis": {"values": [0, 0.25, 0.5, 0.75, 1, 1.25, 1.5], "format": ".2f", "title": "Spectral Approximation Error"}}},
     "layer": [
      {"mark": {"type": "line", "clip": true, "interpolate": "monotone", "strokeWidth": 6, "opacity": 0.17}, "encoding": {"stroke": {"field": "m", "type": "nominal", "scale": {"domain": ["b8","b7","b5","ens","full","std"], "range": ["#35193e","#ad1759","#e13342","#f9a0d9","#56b4e9","#0072b2"]}, "legend": null}}},
      {"mark": {"type": "line", "clip": true, "interpolate": "monotone"}, "encoding": {
      "color": {"field": "m", "type": "nominal", "scale": {"domain": ["b8","b7","b5","ens","full","std"], "range": ["#35193e","#ad1759","#e13342","#f9a0d9","#56b4e9","#0072b2"]}, "legend": {"title": null, "labelExpr": "{'b8':'HashWH (b=8)','b7':'HashWH (b=7)','b5':'HashWH (b=5)','ens':'EN-S','full':'FullWH (intractable)','std':'standard'}[datum.label]"}},
      "strokeDash": {"field": "m", "type": "nominal", "scale": {"domain": ["b8","b7","b5","ens","full","std"], "range": [[10,3,2,3],[5,2,1.6,2],[1.6,2.4],[4.5,1.5,1.5,1.5,1.5,1.5],[6,3],[1,0]]}, "legend": {"title": null, "labelExpr": "{'b8':'HashWH (b=8)','b7':'HashWH (b=7)','b5':'HashWH (b=5)','ens':'EN-S','full':'FullWH (intractable)','std':'standard'}[datum.label]"}},
      "strokeWidth": {"field": "m", "type": "nominal", "scale": {"domain": ["b8","b7","b5","ens","full","std"], "range": [3,1.9,1.9,1.9,1.9,2.6]}, "legend": {"title": null, "labelExpr": "{'b8':'HashWH (b=8)','b7':'HashWH (b=7)','b5':'HashWH (b=5)','ens':'EN-S','full':'FullWH (intractable)','std':'standard'}[datum.label]"}}
     }}]},
    {"width": 267, "height": 194, "title": "Whole Fourier spectrum", "data": {"name": "cW"},
     "encoding": {
      "x": {"field": "e", "type": "quantitative", "scale": {"domain": [-15, 314], "nice": false, "zero": false}, "axis": {"values": [0, 100, 200, 300], "title": "Epoch"}},
      "y": {"field": "v", "type": "quantitative", "scale": {"domain": [0, 1.5], "nice": false}, "axis": {"values": [0, 0.25, 0.5, 0.75, 1, 1.25, 1.5], "labels": false, "title": null}}},
     "layer": [
      {"mark": {"type": "line", "clip": true, "interpolate": "monotone", "strokeWidth": 6, "opacity": 0.17}, "encoding": {"stroke": {"field": "m", "type": "nominal", "scale": {"domain": ["b8","b7","b5","ens","full","std"], "range": ["#35193e","#ad1759","#e13342","#f9a0d9","#56b4e9","#0072b2"]}, "legend": null}}},
      {"mark": {"type": "line", "clip": true, "interpolate": "monotone"}, "encoding": {
      "color": {"field": "m", "type": "nominal", "scale": {"domain": ["b8","b7","b5","ens","full","std"], "range": ["#35193e","#ad1759","#e13342","#f9a0d9","#56b4e9","#0072b2"]}, "legend": null},
      "strokeDash": {"field": "m", "type": "nominal", "scale": {"domain": ["b8","b7","b5","ens","full","std"], "range": [[10,3,2,3],[5,2,1.6,2],[1.6,2.4],[4.5,1.5,1.5,1.5,1.5,1.5],[6,3],[1,0]]}, "legend": null},
      "strokeWidth": {"field": "m", "type": "nominal", "scale": {"domain": ["b8","b7","b5","ens","full","std"], "range": [3,1.9,1.9,1.9,1.9,2.6]}, "legend": null}
     }}]}
   ]},
  {"title": {"text": "(d) Train size\u2002=\u2002400", "orient": "bottom", "anchor": "middle", "font": "Liberation Serif", "fontSize": 22.5, "offset": 36},
   "spacing": 13,
   "resolve": {"scale": {"color": "independent", "strokeDash": "independent", "strokeWidth": "independent"}, "legend": {"color": "independent", "strokeDash": "independent", "strokeWidth": "independent"}},
   "hconcat": [
    {"width": 267, "height": 194, "title": {"text": "Target support", "offset": -1}, "data": {"name": "dT"},
     "encoding": {
      "x": {"field": "e", "type": "quantitative", "scale": {"domain": [-15, 314], "nice": false, "zero": false}, "axis": {"values": [0, 100, 200, 300], "title": "Epoch"}},
      "y": {"field": "v", "type": "quantitative", "scale": {"domain": [0, 1.5], "nice": false}, "axis": {"values": [0, 0.25, 0.5, 0.75, 1, 1.25, 1.5], "format": ".2f", "title": "Spectral Approximation Error"}}},
     "layer": [
      {"mark": {"type": "line", "clip": true, "interpolate": "monotone", "strokeWidth": 6, "opacity": 0.17}, "encoding": {"stroke": {"field": "m", "type": "nominal", "scale": {"domain": ["b8","b7","b5","ens","full","std"], "range": ["#35193e","#ad1759","#e13342","#f9a0d9","#56b4e9","#0072b2"]}, "legend": null}}},
      {"mark": {"type": "line", "clip": true, "interpolate": "monotone"}, "encoding": {
      "color": {"field": "m", "type": "nominal", "scale": {"domain": ["b8","b7","b5","ens","full","std"], "range": ["#35193e","#ad1759","#e13342","#f9a0d9","#56b4e9","#0072b2"]}, "legend": {"title": null, "labelExpr": "{'b8':'HashWH (b=8)','b7':'HashWH (b=7)','b5':'HashWH (b=5)','ens':'EN-S','full':'FullWH (intractable)','std':'standard'}[datum.label]"}},
      "strokeDash": {"field": "m", "type": "nominal", "scale": {"domain": ["b8","b7","b5","ens","full","std"], "range": [[10,3,2,3],[5,2,1.6,2],[1.6,2.4],[4.5,1.5,1.5,1.5,1.5,1.5],[6,3],[1,0]]}, "legend": {"title": null, "labelExpr": "{'b8':'HashWH (b=8)','b7':'HashWH (b=7)','b5':'HashWH (b=5)','ens':'EN-S','full':'FullWH (intractable)','std':'standard'}[datum.label]"}},
      "strokeWidth": {"field": "m", "type": "nominal", "scale": {"domain": ["b8","b7","b5","ens","full","std"], "range": [3,1.9,1.9,1.9,1.9,2.6]}, "legend": {"title": null, "labelExpr": "{'b8':'HashWH (b=8)','b7':'HashWH (b=7)','b5':'HashWH (b=5)','ens':'EN-S','full':'FullWH (intractable)','std':'standard'}[datum.label]"}}
     }}]},
    {"width": 267, "height": 194, "title": "Whole Fourier spectrum", "data": {"name": "dW"},
     "encoding": {
      "x": {"field": "e", "type": "quantitative", "scale": {"domain": [-15, 314], "nice": false, "zero": false}, "axis": {"values": [0, 100, 200, 300], "title": "Epoch"}},
      "y": {"field": "v", "type": "quantitative", "scale": {"domain": [0, 1.5], "nice": false}, "axis": {"values": [0, 0.25, 0.5, 0.75, 1, 1.25, 1.5], "labels": false, "title": null}}},
     "layer": [
      {"mark": {"type": "line", "clip": true, "interpolate": "monotone", "strokeWidth": 6, "opacity": 0.17}, "encoding": {"stroke": {"field": "m", "type": "nominal", "scale": {"domain": ["b8","b7","b5","ens","full","std"], "range": ["#35193e","#ad1759","#e13342","#f9a0d9","#56b4e9","#0072b2"]}, "legend": null}}},
      {"mark": {"type": "line", "clip": true, "interpolate": "monotone"}, "encoding": {
      "color": {"field": "m", "type": "nominal", "scale": {"domain": ["b8","b7","b5","ens","full","std"], "range": ["#35193e","#ad1759","#e13342","#f9a0d9","#56b4e9","#0072b2"]}, "legend": null},
      "strokeDash": {"field": "m", "type": "nominal", "scale": {"domain": ["b8","b7","b5","ens","full","std"], "range": [[10,3,2,3],[5,2,1.6,2],[1.6,2.4],[4.5,1.5,1.5,1.5,1.5,1.5],[6,3],[1,0]]}, "legend": null},
      "strokeWidth": {"field": "m", "type": "nominal", "scale": {"domain": ["b8","b7","b5","ens","full","std"], "range": [3,1.9,1.9,1.9,1.9,2.6]}, "legend": null}
     }}]}
   ]}
 ],
 "spacing": 30,
 "resolve": {"scale": {"color": "independent", "strokeDash": "independent", "strokeWidth": "independent"}, "legend": {"color": "independent", "strokeDash": "independent", "strokeWidth": "independent"}}
}
]
}
